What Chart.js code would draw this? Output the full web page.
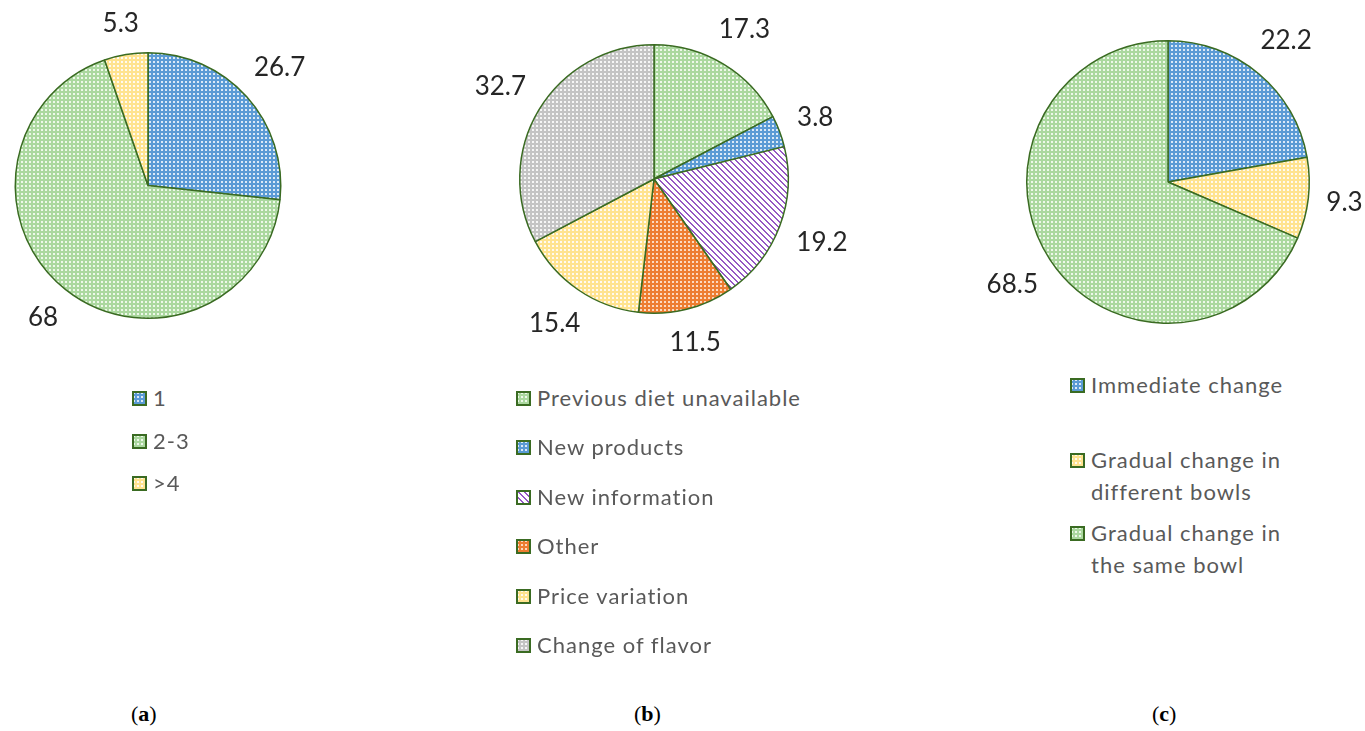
<!DOCTYPE html>
<html lang="en">
<head>
<meta charset="UTF-8">
<title>Diet change pie charts</title>
<script src="https://cdn.jsdelivr.net/npm/chart.js@4"></script>
<style>
  body { margin: 0; background: #fff; width: 1365px; height: 731px; position: relative; overflow: hidden; font-family: Lato, "Open Sans", sans-serif; }
  .chart { position: absolute; top: 0; width: 455px; height: 360px; }
  .legend { position: absolute; color: #595959; font-size: 22px; letter-spacing: 1px; }
  .legend .item { position: absolute; left: 0; display: flex; align-items: flex-start; line-height: 32px; white-space: nowrap; }
  .legend canvas { margin-top: 9px; margin-right: 6px; flex: none; }
  .caption { position: absolute; top: 701px; font-family: "Liberation Serif", serif; font-size: 22px; color: #000; }
</style>
</head>
<body>
  <div class="chart" style="left:0px"><canvas id="chart-a"></canvas></div>
  <div class="chart" style="left:455px"><canvas id="chart-b"></canvas></div>
  <div class="chart" style="left:910px"><canvas id="chart-c"></canvas></div>

  <div class="legend" id="legend-a" style="left:132px; top:382px"></div>
  <div class="legend" id="legend-b" style="left:516px; top:382px"></div>
  <div class="legend" id="legend-c" style="left:1070px; top:369px"></div>

  <div class="caption" style="left:131px">(<b>a</b>)</div>
  <div class="caption" style="left:634px">(<b>b</b>)</div>
  <div class="caption" style="left:1152px">(<b>c</b>)</div>

<script>
// (a)
const labelsA = ['1', '2-3', '>4'];
const valuesA = [26.7, 68, 5.3];

// (b) reasons for the diet change
const labelsB = ['Previous diet unavailable', 'New products', 'New information', 'Other', 'Price variation', 'Change of flavor'];
const valuesB = [17.3, 3.8, 19.2, 11.5, 15.4, 32.7];

// (c) how the change was made
const labelsC = ['Immediate change', ['Gradual change in', 'different bowls'], ['Gradual change in', 'the same bowl']];
const valuesC = [22.2, 9.3, 68.5];

// fill patterns, Excel-like dotted / striped
function dotTile(base, dot) {
  const c = document.createElement('canvas');
  c.width = 4; c.height = 4;
  const x = c.getContext('2d');
  x.fillStyle = base; x.fillRect(0, 0, 4, 4);
  x.fillStyle = dot; x.fillRect(1, 1, 2, 2);
  return c;
}
function stripeTile(line, bg) {
  const c = document.createElement('canvas');
  c.width = 6; c.height = 6;
  const x = c.getContext('2d');
  x.fillStyle = bg; x.fillRect(0, 0, 6, 6);
  x.fillStyle = line;
  for (let i = 0; i < 6; i++) {
    x.fillRect(i, i, 1, 1);
    x.fillRect((i + 1) % 6, i, 1, 1);
  }
  return c;
}
const tiles = {
  blue: dotTile('#5b9bd5', '#dceaf7'),
  green: dotTile('#abd89f', '#eef8ea'),
  yellow: dotTile('#ffe38f', '#fffaf0'),
  orange: dotTile('#ed7d31', '#fcd9c0'),
  gray: dotTile('#c4c4c4', '#f6f6f6'),
  purple: stripeTile('#9558c4', '#ffffff')
};
const ctx0 = document.createElement('canvas').getContext('2d');
function pat(name) { return ctx0.createPattern(tiles[name], 'repeat'); }

const BORDER = '#3a6b22';

// value labels drawn outside each slice, a fixed gap away from the rim
const outsideLabels = {
  id: 'outsideLabels',
  afterDatasetsDraw(chart, args, opts) {
    const ctx = chart.ctx;
    const meta = chart.getDatasetMeta(0);
    const data = chart.data.datasets[0].data;
    ctx.save();
    ctx.font = '26px Lato, "Open Sans", sans-serif';
    ctx.fillStyle = '#262626';
    ctx.textAlign = 'center';
    ctx.textBaseline = 'middle';
    meta.data.forEach((arc, i) => {
      const p = arc.getProps(['x', 'y', 'startAngle', 'endAngle', 'outerRadius'], true);
      const mid = (p.startAngle + p.endAngle) / 2;
      const txt = String(data[i]);
      const w = ctx.measureText(txt).width;
      const cx = Math.cos(mid), cy = Math.sin(mid);
      const d = p.outerRadius + opts.gap + Math.abs(cx) * w / 2 + Math.abs(cy) * 12;
      ctx.fillText(txt, p.x + cx * d, p.y + cy * d);
    });
    ctx.restore();
  }
};

function makePie(id, labels, values, colors, padding) {
  return new Chart(document.getElementById(id), {
    type: 'pie',
    data: {
      labels: labels,
      datasets: [{
        data: values,
        backgroundColor: colors.map(pat),
        borderColor: BORDER,
        borderWidth: 1.5
      }]
    },
    options: {
      responsive: true,
      maintainAspectRatio: false,
      animation: false,
      layout: { padding: padding },
      plugins: {
        legend: { display: false },
        tooltip: { enabled: false },
        outsideLabels: { gap: 17 }
      }
    },
    plugins: [outsideLabels]
  });
}

function makeLegend(id, labels, colors, tops) {
  const el = document.getElementById(id);
  labels.forEach((lab, i) => {
    const item = document.createElement('div');
    item.className = 'item';
    item.style.top = tops[i] + 'px';
    const sw = document.createElement('canvas');
    sw.width = 15; sw.height = 15;
    const x = sw.getContext('2d');
    x.fillStyle = x.createPattern(tiles[colors[i]], 'repeat');
    x.fillRect(0, 0, 15, 15);
    x.strokeStyle = BORDER; x.lineWidth = 2;
    x.strokeRect(1, 1, 13, 13);
    const txt = document.createElement('span');
    txt.innerHTML = Array.isArray(lab) ? lab.join('<br>') : lab.replace('>', '&gt;');
    item.appendChild(sw);
    item.appendChild(txt);
    el.appendChild(item);
  });
}

const colorsA = ['blue', 'green', 'yellow'];
const colorsB = ['green', 'blue', 'purple', 'orange', 'yellow', 'gray'];
const colorsC = ['blue', 'yellow', 'green'];

makePie('chart-a', labelsA, valuesA, colorsA, { left: 14, right: 173, top: 52, bottom: 41 });
makePie('chart-b', labelsB, valuesB, colorsB, { left: 64, right: 121, top: 44, bottom: 46 });
makePie('chart-c', labelsC, valuesC, colorsC, { left: 116, right: 55, top: 40, bottom: 36 });

makeLegend('legend-a', labelsA, colorsA, [0, 42.5, 85]);
makeLegend('legend-b', labelsB, colorsB, [0, 49.4, 98.8, 148.2, 197.6, 247]);
makeLegend('legend-c', labelsC, colorsC, [0, 75, 148]);
</script>
</body>
</html>
